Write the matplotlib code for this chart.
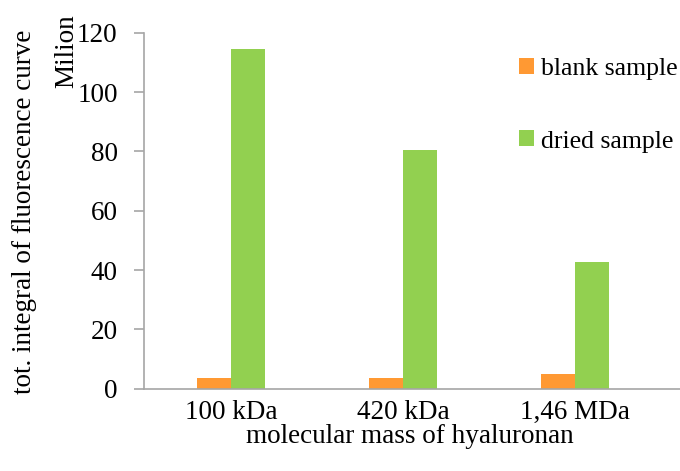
import numpy as np
import matplotlib.pyplot as plt

plt.rcParams['font.family'] = ['Liberation Serif', 'DejaVu Serif']

categories = ['100 kDa', '420 kDa', '1,46 MDa']
blank = [3.6, 3.6, 4.9]
dried = [114.4, 80.3, 42.6]

fig = plt.figure(figsize=(6.8, 4.71), dpi=100)
ax = fig.add_axes([144 / 680, 82.3 / 471, 536 / 680, 356 / 471])

x = np.arange(len(categories))
w = 0.2
ax.bar(x - w / 2, blank, w, color='#FF9933', label='blank sample')
ax.bar(x + w / 2, dried, w, color='#92D050', label='dried sample')

ax.set_xlim(-0.506, 2.61)
ax.set_ylim(0, 120)
ax.set_yticks(np.arange(0, 121, 20))
ax.set_xticks(x)
ax.set_xticklabels(categories)

for s in ['top', 'right']:
    ax.spines[s].set_visible(False)
for s in ['left', 'bottom']:
    ax.spines[s].set_color('#A6A6A6')
    ax.spines[s].set_linewidth(1.2)
fs = 19.5
ax.tick_params(axis='y', length=7, width=1.2, color='#A6A6A6', pad=12, labelsize=fs)
ax.tick_params(axis='x', length=0, pad=8, labelsize=fs)

fig.text(25 / 680, 1 - 212 / 471, 'tot. integral of fluorescence curve',
         rotation=90, ha='center', va='center', fontsize=fs)
fig.text(67 / 680, 1 - 51 / 471, 'Milion', rotation=90,
         ha='center', va='center', fontsize=fs)
fig.text(410 / 680, 1 - 443 / 471, 'molecular mass of hyaluronan',
         ha='center', va='baseline', fontsize=fs)

ax.legend(loc='upper left', bbox_to_anchor=(0.656, 0.993), frameon=False,
          fontsize=18.5, handlelength=0.58, handleheight=0.58, handletextpad=0.3,
          labelspacing=1.95)

fig.savefig('out.png', dpi=100)
